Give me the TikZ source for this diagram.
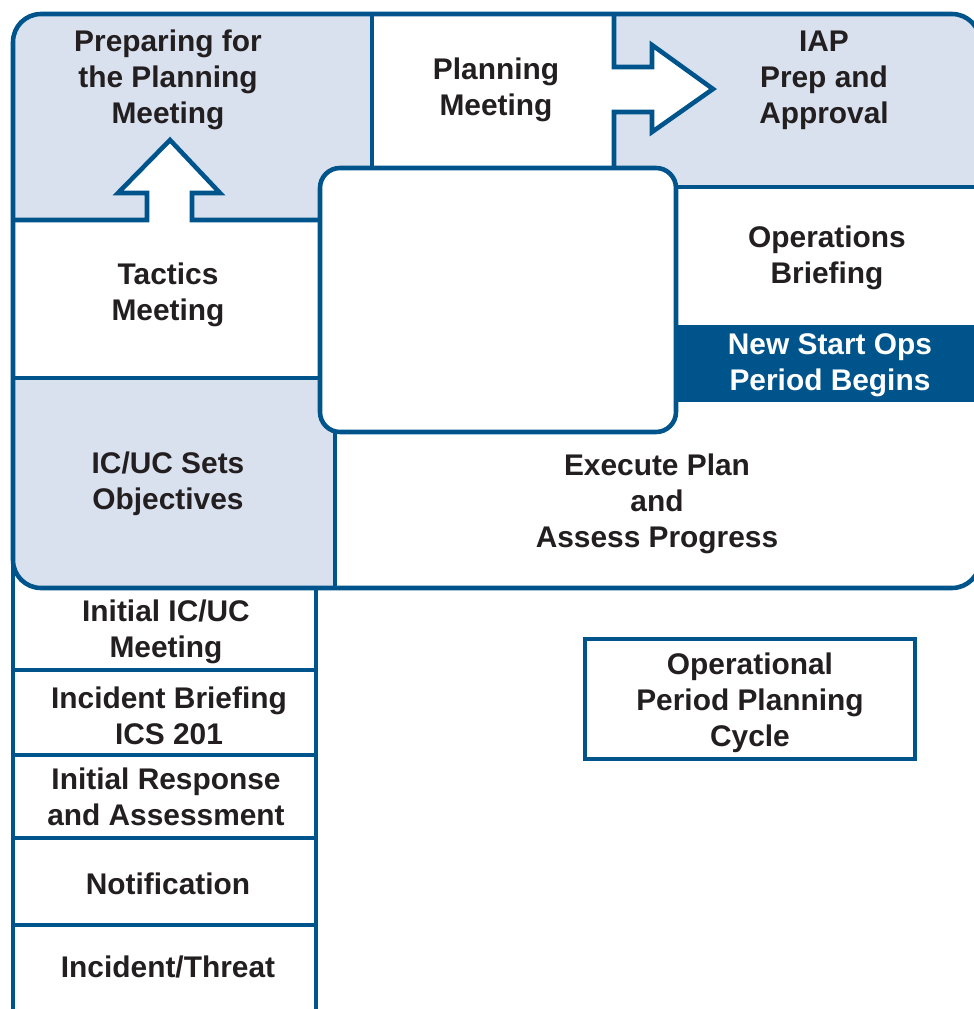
\documentclass[tikz,border=0pt]{standalone}
\usepackage{fontspec}
\setmainfont{Liberation Sans}
\usepackage{xcolor}
\definecolor{icsblue}{RGB}{0,84,140}
\definecolor{icslight}{RGB}{217,225,238}
\definecolor{icsink}{RGB}{35,31,32}
\usepackage{tikz}
\usetikzlibrary{positioning}

\tikzset{
  cell/.style={font=\fontsize{8.5}{10.2}\selectfont\bfseries, text=icsink, align=center, inner sep=0pt},
  rule/.style={icsblue, line width=1.3pt},
}

\begin{document}
\begin{tikzpicture}
  \useasboundingbox (0,0) rectangle (9.74,10.09);
  \clip (0,0) rectangle (9.74,10.09);

  % --- Shaded panels, kept inside the rounded outline ---
  \begin{scope}
    \clip[rounded corners=2.8mm] (0.13,4.21) rectangle (9.80,9.95);
    \fill[icslight] (0.13,7.89) rectangle (3.72,9.95);
    \fill[icslight] (6.14,8.22) rectangle (9.80,9.95);
    \fill[icslight] (0.13,4.21) rectangle (3.35,6.31);
  \end{scope}
  \fill[icsblue] (6.76,6.07) rectangle (9.80,6.84);

  % --- Block arrows (white inside) ---
  \fill[white] (1.47,7.89) -- (1.47,8.16) -- (1.18,8.16) -- (1.70,8.69) -- (2.20,8.16) -- (1.92,8.16) -- (1.92,7.89) -- cycle;
  \fill[white] (6.14,9.42) -- (6.52,9.42) -- (6.52,9.64) -- (7.13,9.20) -- (6.52,8.77) -- (6.52,8.97) -- (6.14,8.97) -- cycle;

  % --- Cell borders ---
  \draw[rule] (0.13,7.89) -- (1.47,7.89) -- (1.47,8.16) -- (1.18,8.16) -- (1.70,8.69) --
    (2.20,8.16) -- (1.92,8.16) -- (1.92,7.89) -- (3.20,7.89);
  \draw[rule] (0.13,6.31) -- (3.20,6.31);
  \draw[rule] (3.72,9.95) -- (3.72,8.41);
  \draw[rule] (6.14,9.95) -- (6.14,9.42) -- (6.52,9.42) -- (6.52,9.64) -- (7.13,9.20) --
    (6.52,8.77) -- (6.52,8.97) -- (6.14,8.97) -- (6.14,8.41);
  \draw[rule] (6.76,8.22) -- (9.80,8.22);
  \draw[rule] (3.35,5.77) -- (3.35,4.21);

  % --- Centre box and outline ---
  \draw[rule, fill=white, rounded corners=2mm] (3.20,5.77) rectangle (6.76,8.41);
  \draw[rule, rounded corners=2.8mm] (0.13,4.21) rectangle (9.80,9.95);

  % --- Start-up column ---
  \draw[rule] (0.13,4.55) -- (0.13,-0.1);
  \draw[rule] (3.16,4.21) -- (3.16,-0.1);
  \foreach \y in {3.39,2.54,1.71,0.84}
    \draw[rule] (0.13,\y) -- (3.16,\y);

  % --- Title box ---
  \draw[rule] (5.85,2.50) rectangle (9.15,3.70);

  % --- Labels ---
  \node[cell] (prep) at (1.68,9.29) {Preparing for\\the Planning\\Meeting};
  \node[cell] (planmtg) at (4.96,9.19) {Planning\\Meeting};
  \node[cell] (iap) at (8.24,9.29) {IAP\\Prep and\\Approval};
  \node[cell] (tactics) at (1.68,7.14) {Tactics\\Meeting};
  \node[cell] (opsbrief) at (8.27,7.51) {Operations\\Briefing};
  \node[cell, text=white] (newops) at (8.30,6.44) {New Start Ops\\Period Begins};
  \node[cell] (objectives) at (1.68,5.25) {IC/UC Sets\\Objectives};
  \node[cell] (execute) at (6.57,5.05) {Execute Plan\\and\\Assess Progress};
  \node[cell] (icucmtg) at (1.66,3.77) {Initial IC/UC\\Meeting};
  \node[cell] (briefing) at (1.69,2.93) {Incident Briefing\\ICS 201};
  \node[cell] (response) at (1.66,2.12) {Initial Response\\and Assessment};
  \node[cell] (notify) at (1.68,1.25) {Notification};
  \node[cell] (threat) at (1.68,0.42) {Incident/Threat};
  \node[cell] (cycle) at (7.50,3.06) {Operational\\Period Planning\\Cycle};
\end{tikzpicture}
\end{document}
